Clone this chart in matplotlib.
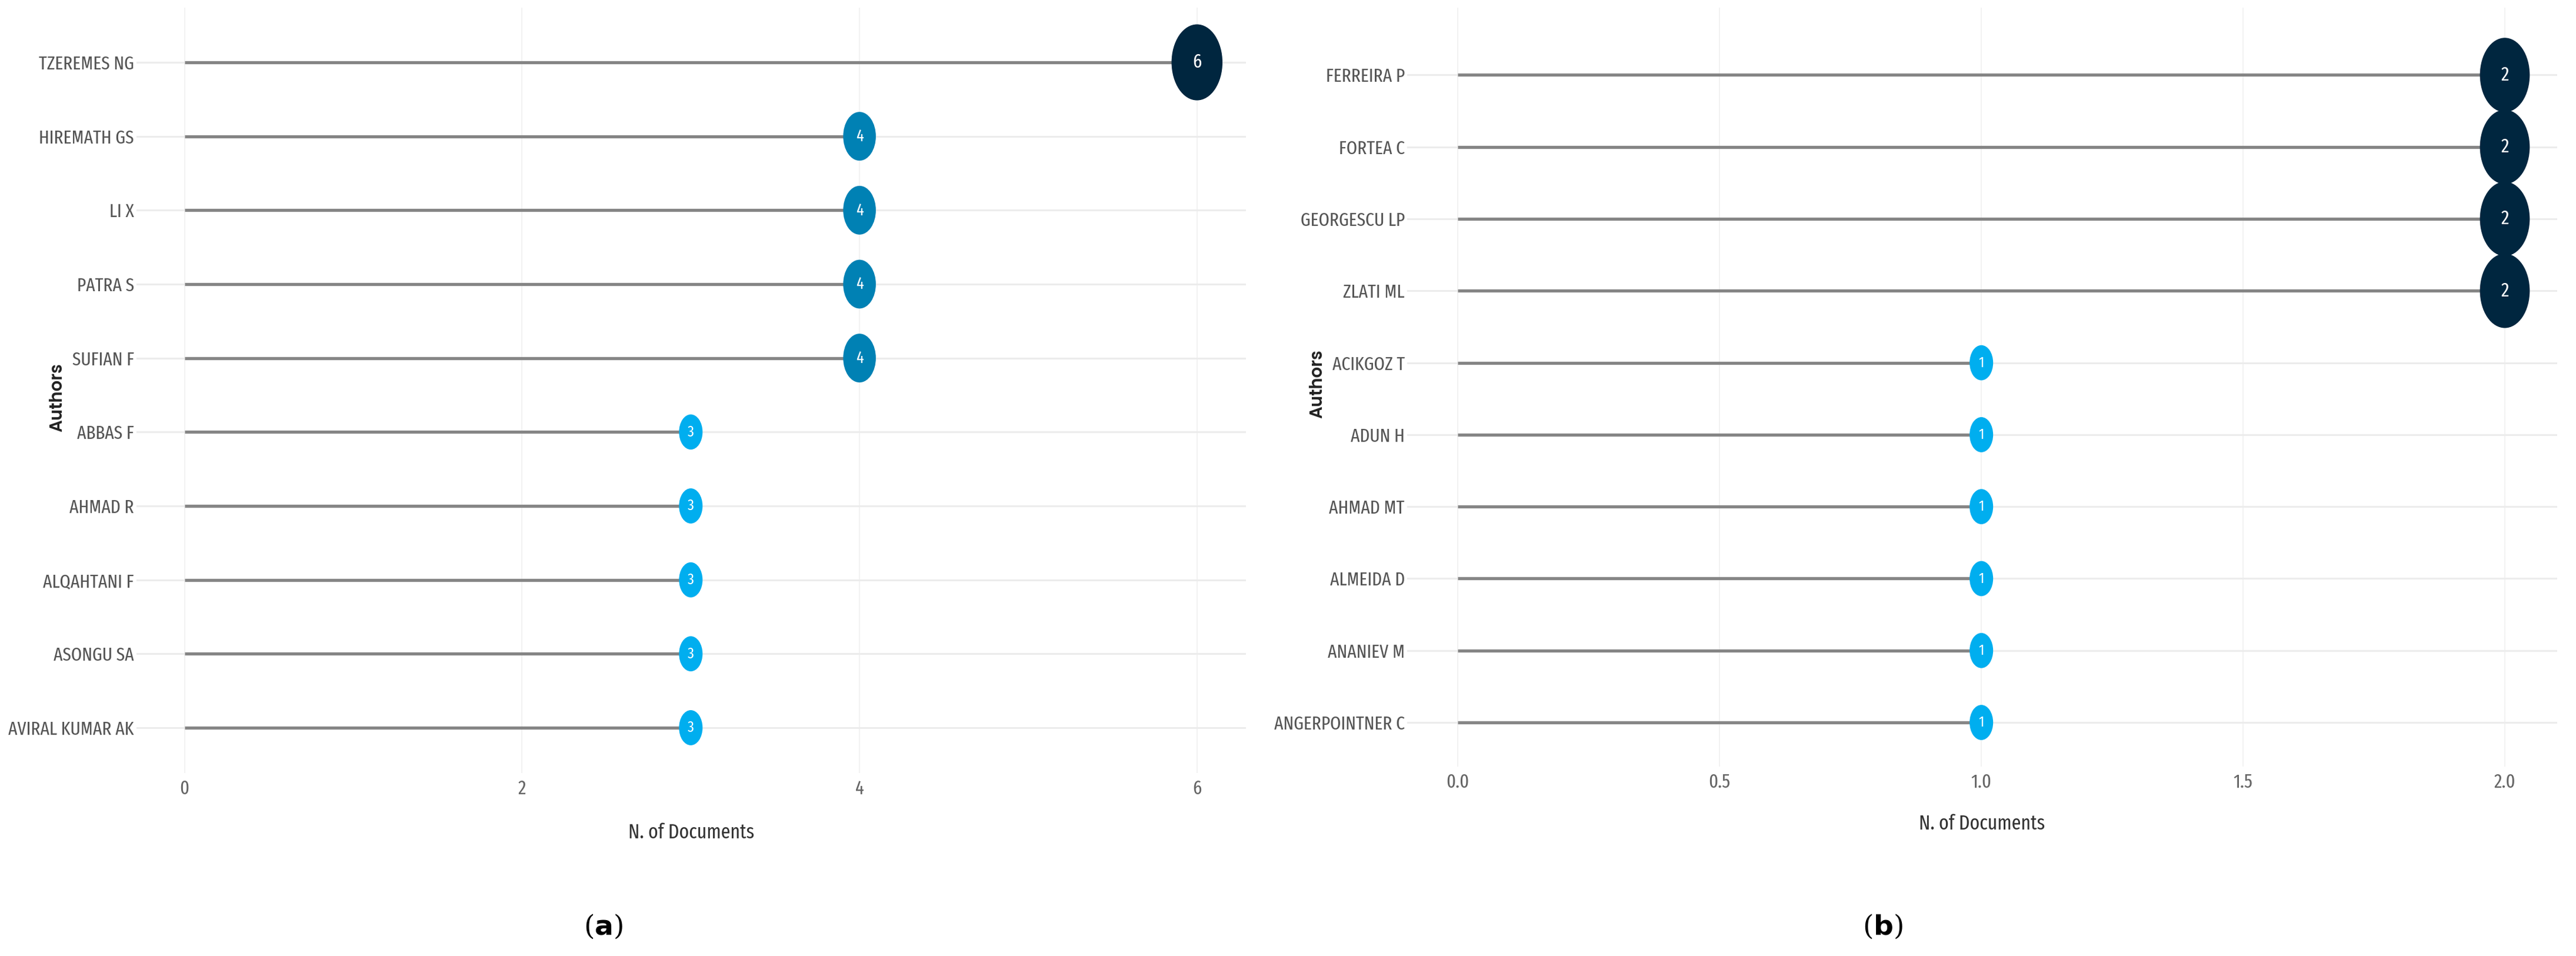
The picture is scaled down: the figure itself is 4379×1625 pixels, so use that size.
import matplotlib
matplotlib.use("Agg")
import matplotlib.pyplot as plt
import numpy as np
from matplotlib.path import Path
from matplotlib.transforms import Affine2D
from matplotlib.colors import LinearSegmentedColormap

# ---------------- data ----------------
authors_a = ["TZEREMES NG", "HIREMATH GS", "LI X", "PATRA S", "SUFIAN F",
             "ABBAS F", "AHMAD R", "ALQAHTANI F", "ASONGU SA", "AVIRAL KUMAR AK"]
docs_a = [6, 4, 4, 4, 4, 3, 3, 3, 3, 3]
ticks_a = [0, 2, 4, 6]
ticklabels_a = ["0", "2", "4", "6"]

authors_b = ["FERREIRA P", "FORTEA C", "GEORGESCU LP", "ZLATI ML", "ACIKGOZ T",
             "ADUN H", "AHMAD MT", "ALMEIDA D", "ANANIEV M", "ANGERPOINTNER C"]
docs_b = [2, 2, 2, 2, 1, 1, 1, 1, 1, 1]
ticks_b = [0.0, 0.5, 1.0, 1.5, 2.0]
ticklabels_b = ["0.0", "0.5", "1.0", "1.5", "2.0"]

# ---------------- style ----------------
NARROW = ["Fira Sans Extra Condensed", "Fira Sans Condensed", "Liberation Sans", "DejaVu Sans"]
GEOM = ["Poppins", "DejaVu Sans"]
cmap = LinearSegmentedColormap.from_list("docs", ["#00AEEF", "#00263F"])
ellipse = Path.unit_circle().transformed(Affine2D().scale(0.67, 1.0))

W, H = 4379, 1625
fig = plt.figure(figsize=(W / 100, H / 100), dpi=100)
fig.patch.set_facecolor("white")


def px_axes(x0, x1, ytop, ybot):
    return fig.add_axes([x0 / W, 1 - ybot / H, (x1 - x0) / W, (ybot - ytop) / H])


def panel(ax, names, vals, ticks, ticklabels, xlim, ylim, ylab_xy, xlab_y, size_max):
    y = np.arange(len(names))
    vals = np.asarray(vals, dtype=float)
    t = (vals - vals.min()) / (vals.max() - vals.min())
    sizes = 43 + t * (size_max - 43)
    colors = cmap(t)
    ax.hlines(y, 0, vals, color="#858585", lw=3.8, zorder=2, capstyle="butt")
    ax.scatter(vals, y, s=sizes ** 2, marker=ellipse, c=colors, linewidths=0, zorder=3)
    for xi, yi, ti in zip(vals, y, t):
        ax.text(xi, yi, f"{int(xi)}", color="white", ha="center", va="center",
                fontsize=19 + 5 * ti, family=NARROW, zorder=4)
    ax.set_xlim(*xlim)
    ax.set_ylim(*ylim)
    ax.set_yticks(y)
    ax.set_yticklabels(names, family=NARROW, fontsize=23, color="#555555")
    ax.set_xticks(ticks)
    ax.set_xticklabels(ticklabels, family=NARROW, fontsize=24, color="#666666")
    ax.tick_params(axis="y", length=0, pad=3)
    ax.tick_params(axis="x", length=0, pad=8)
    ax.grid(axis="y", color="#ececec", lw=2.2, zorder=0)
    ax.grid(axis="x", color="#f0f0f0", lw=1.2, zorder=0)
    ax.set_axisbelow(True)
    for s in ax.spines.values():
        s.set_visible(False)
    ax.set_xlabel("N. of Documents", family=NARROW, fontsize=25, color="#333333")
    ax.xaxis.set_label_coords(0.5, xlab_y)
    ax.xaxis.label.set_va("center")
    ax.set_ylabel("Authors", family=GEOM, fontweight="semibold",
                  fontsize=21, color="#222222")
    ax.yaxis.set_label_coords(*ylab_xy)
    ax.yaxis.label.set_va("center")


axA = px_axes(232, 2118, 13, 1314)
panel(axA, authors_a, docs_a, ticks_a, ticklabels_a,
      xlim=(-0.285, 6.29), ylim=(9.613, -0.74),
      ylab_xy=(-0.0711, 0.491), xlab_y=-0.0776, size_max=93)

axB = px_axes(2392, 4347, 13, 1303)
panel(axB, authors_b, docs_b, ticks_b, ticklabels_b,
      xlim=(-0.097, 2.1), ylim=(9.613, -0.936),
      ylab_xy=(-0.0777, 0.504), xlab_y=-0.0752, size_max=91)

fig.text(1025 / W, 1 - 1575 / H, r"($\mathbf{a}$)", ha="center", va="center",
         fontsize=34, family="DejaVu Serif", color="black")
fig.text(3200 / W, 1 - 1575 / H, r"($\mathbf{b}$)", ha="center", va="center",
         fontsize=34, family="DejaVu Serif", color="black")

fig.savefig("out.png", dpi=100, facecolor="white")
